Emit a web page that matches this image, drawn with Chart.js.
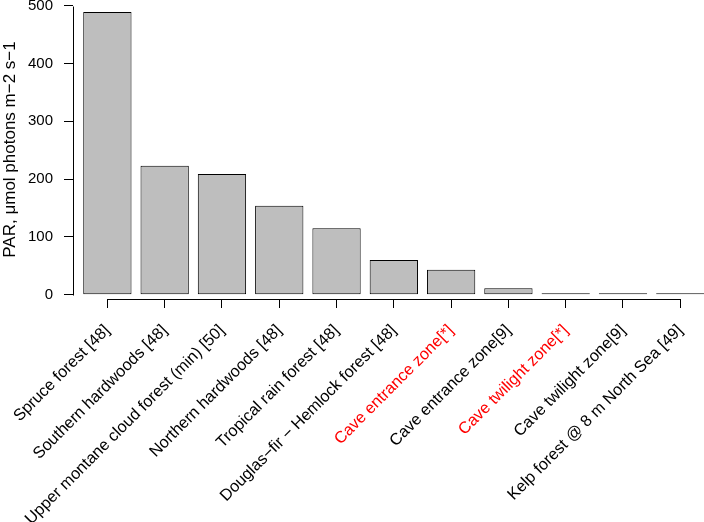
<!DOCTYPE html>
<html>
<head>
<meta charset="utf-8">
<script src="https://cdn.jsdelivr.net/npm/chart.js@4.4.1/dist/chart.umd.min.js"></script>
<style>
    html, body { margin: 0; padding: 0; background: #fff; }
    #wrap { width: 704px; height: 522px; position: relative; }
</style>
</head>
<body>
<div id="wrap"><canvas id="parChart"></canvas></div>
<script>
// 各森林/洞穴環境的 PAR 值
const categories = [
    "Spruce forest [48]",
    "Southern hardwoods [48]",
    "Upper montane cloud forest (min) [50]",
    "Northern hardwoods [48]",
    "Tropical rain forest [48]",
    "Douglas\u2212fir \u2212 Hemlock forest [48]",
    "Cave entrance zone[*]",
    "Cave entrance zone[9]",
    "Cave twilight zone[*]",
    "Cave twilight zone[9]",
    "Kelp forest @ 8 m North Sea [49]"
];
const parValues = [489, 223, 209, 154, 115, 60, 43, 11, 2, 1.3, 0.4];
const yTicks = [0, 100, 200, 300, 400, 500];

// 紅字標示的類別
const RED_LABELS = ["Cave entrance zone[*]", "Cave twilight zone[*]"];

Chart.defaults.font.family = '"Liberation Sans", Arial, Helvetica, sans-serif';
Chart.defaults.font.size = 15;
Chart.defaults.color = "#000";

// R 風格的座標軸線：只畫到第一個與最後一個刻度
const rAxisLines = {
    id: "rAxisLines",
    afterDraw(chart) {
        const { ctx, chartArea, scales } = chart;
        const x = scales.x;
        const y = scales.y;
        ctx.save();
        ctx.strokeStyle = "#000";
        ctx.lineWidth = 1;
        ctx.beginPath();
        const yLineX = Math.round(chartArea.left) + 0.5;
        ctx.moveTo(yLineX, Math.round(y.getPixelForValue(yTicks[0])) + 0.5);
        ctx.lineTo(yLineX, Math.round(y.getPixelForValue(yTicks[yTicks.length - 1])) + 0.5);
        const xLineY = Math.round(chartArea.bottom) + 0.5;
        ctx.moveTo(Math.round(x.getPixelForValue(0)) + 0.5, xLineY);
        ctx.lineTo(Math.round(x.getPixelForValue(categories.length - 1)) + 0.5, xLineY);
        ctx.stroke();
        ctx.restore();
    }
};

new Chart(document.getElementById("parChart"), {
    type: "bar",
    data: {
        datasets: [{
            data: parValues.map((v, i) => ({ x: i, y: v })),
            backgroundColor: "#BEBEBE",
            borderColor: "#000",
            borderWidth: 1,
            borderSkipped: false,
            minBarLength: 1.5,
            categoryPercentage: 1,
            barPercentage: 0.843
        }]
    },
    options: {
        responsive: true,
        maintainAspectRatio: false,
        animation: false,
        layout: { padding: 0 },
        plugins: {
            legend: { display: false },
            tooltip: { enabled: false }
        },
        scales: {
            x: {
                type: "linear",
                offset: false,
                min: -0.6,
                max: 10.414,
                afterBuildTicks: (scale) => {
                    scale.ticks = categories.map((_, i) => ({ value: i }));
                },
                afterFit: (scale) => {
                    scale.height = 223;
                    scale.paddingLeft = 0;
                    scale.paddingRight = 0;
                },
                grid: {
                    display: true,
                    offset: false,
                    drawOnChartArea: false,
                    drawTicks: true,
                    tickLength: 9,
                    color: "#000"
                },
                border: { display: false },
                ticks: {
                    autoSkip: false,
                    minRotation: 45,
                    maxRotation: 45,
                    padding: 13,
                    font: { size: 16.3 },
                    callback: (value) => categories[value],
                    color: (context) => RED_LABELS.includes(categories[context.tick.value]) ? "#FF0000" : "#000"
                }
            },
            y: {
                min: -7.4,
                max: 509.9,
                afterBuildTicks: (scale) => {
                    scale.ticks = yTicks.map((v) => ({ value: v }));
                },
                afterFit: (scale) => {
                    scale.width = 73;
                    scale.paddingTop = 0;
                    scale.paddingBottom = 0;
                },
                grid: {
                    display: true,
                    drawOnChartArea: false,
                    drawTicks: true,
                    tickLength: 9,
                    color: "#000"
                },
                border: { display: false },
                ticks: {
                    padding: 11
                },
                title: {
                    display: true,
                    text: "PAR, \u03bcmol photons m\u22122 s\u22121",
                    padding: { top: 0, bottom: 0 },
                    font: { size: 17 }
                }
            }
        }
    },
    plugins: [rAxisLines]
});
</script>
</body>
</html>
